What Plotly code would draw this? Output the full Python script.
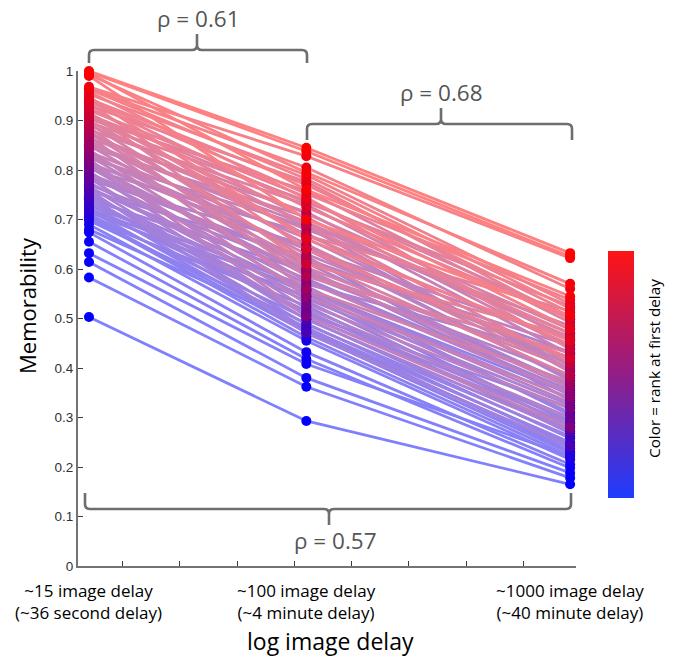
import numpy as np
import plotly.graph_objects as go

# ---------------- data ----------------
delays = [15, 100, 1000]
delay_labels = ["~15 image delay<br>(~36 second delay)",
                "~100 image delay<br>(~4 minute delay)",
                "~1000 image delay<br>(~40 minute delay)"]

mem_15 = [1.000, 0.998, 0.996, 0.993, 0.990, 0.968, 0.963, 0.958, 0.953, 0.948,
          0.944, 0.939, 0.935, 0.930, 0.926, 0.921, 0.917, 0.912, 0.908, 0.903,
          0.899, 0.894, 0.890, 0.886, 0.881, 0.877, 0.872, 0.868, 0.864, 0.859,
          0.855, 0.850, 0.846, 0.841, 0.837, 0.833, 0.828, 0.824, 0.819, 0.815,
          0.811, 0.806, 0.802, 0.797, 0.793, 0.789, 0.784, 0.780, 0.775, 0.771,
          0.767, 0.762, 0.758, 0.754, 0.749, 0.745, 0.741, 0.736, 0.732, 0.728,
          0.723, 0.719, 0.715, 0.710, 0.706, 0.702, 0.698, 0.690, 0.680, 0.674,
          0.655, 0.632, 0.614, 0.583, 0.503,
          0.965, 0.942, 0.915, 0.897, 0.875, 0.852, 0.831, 0.808, 0.786, 0.765,
          0.743, 0.721, 0.704, 0.760, 0.822]
mem_100 = [0.845, 0.838, 0.760, 0.795, 0.700, 0.828, 0.782, 0.742, 0.790, 0.660,
           0.770, 0.725, 0.640, 0.776, 0.702, 0.745, 0.610, 0.735, 0.690, 0.758,
           0.668, 0.620, 0.712, 0.585, 0.730, 0.650, 0.695, 0.560, 0.715, 0.630,
           0.680, 0.598, 0.705, 0.545, 0.662, 0.615, 0.575, 0.686, 0.530, 0.640,
           0.592, 0.555, 0.672, 0.520, 0.612, 0.570, 0.505, 0.648, 0.540, 0.600,
           0.498, 0.580, 0.625, 0.512, 0.550, 0.488, 0.595, 0.535, 0.480, 0.565,
           0.515, 0.475, 0.545, 0.500, 0.472, 0.525, 0.490, 0.455, 0.482, 0.432,
           0.418, 0.408, 0.380, 0.362, 0.293,
           0.805, 0.752, 0.668, 0.738, 0.603, 0.690, 0.640, 0.588, 0.620, 0.558,
           0.508, 0.558, 0.462, 0.470, 0.505]
mem_1000 = [0.632, 0.625, 0.545, 0.570, 0.505, 0.622, 0.520, 0.480, 0.530, 0.455,
            0.512, 0.500, 0.420, 0.498, 0.470, 0.438, 0.465, 0.525, 0.410, 0.492,
            0.448, 0.385, 0.478, 0.430, 0.455, 0.395, 0.462, 0.372, 0.440, 0.418,
            0.485, 0.360, 0.428, 0.340, 0.405, 0.445, 0.350, 0.392, 0.318, 0.380,
            0.412, 0.330, 0.398, 0.300, 0.365, 0.422, 0.288, 0.375, 0.325, 0.345,
            0.272, 0.355, 0.335, 0.295, 0.310, 0.262, 0.368, 0.282, 0.250, 0.305,
            0.275, 0.238, 0.290, 0.258, 0.228, 0.268, 0.245, 0.215, 0.232, 0.205,
            0.198, 0.222, 0.188, 0.178, 0.165,
            0.560, 0.538, 0.515, 0.505, 0.400, 0.470, 0.458, 0.385, 0.432, 0.338,
            0.320, 0.348, 0.222, 0.242, 0.280]

rho_labels = ["ρ = 0.61", "ρ = 0.68", "ρ = 0.57"]
ytick_vals = [0, 0.1, 0.2, 0.3, 0.4, 0.5, 0.6, 0.7, 0.8, 0.9, 1.0]
ytick_text = ["0", "0.1", "0.2", "0.3", "0.4", "0.5", "0.6", "0.7", "0.8", "0.9", "1"]
xtick_vals = [3.0, 3.5, 4.0, 4.5, 5.0, 5.5, 6.0, 6.5]

# ---------------- derived ----------------
xs = np.log(delays)
m15 = np.array(mem_15)
m100 = np.array(mem_100)
m1000 = np.array(mem_1000)
n = len(m15)
rank = np.argsort(np.argsort(m15))
t = rank / (n - 1)
order = np.argsort(m15)  # draw low rank first, red on top

def mcol(tt):
    return "rgb(%d,0,%d)" % (round(255 * tt), round(255 * (1 - tt)))

def lcol(tt):
    r = 255 * tt
    b = 255 * (1 - tt)
    return "rgb(%d,%d,%d)" % (round((r + 255) / 2), 128, round((b + 255) / 2))

FONT = "Open Sans"
fig = go.Figure()

for i in order:
    fig.add_trace(go.Scatter(
        x=xs, y=[m15[i], m100[i], m1000[i]], mode="lines",
        line=dict(color=lcol(t[i]), width=2.8),
        hoverinfo="skip", showlegend=False, cliponaxis=False))

for col, vals in enumerate([m15, m100, m1000]):
    fig.add_trace(go.Scatter(
        x=[xs[col]] * n, y=vals[order], mode="markers",
        marker=dict(color=[mcol(t[i]) for i in order], size=10, line=dict(width=0)),
        showlegend=False, cliponaxis=False))

# colorbar holder
fig.add_trace(go.Scatter(
    x=[xs[0]], y=[m15[0]], mode="markers",
    marker=dict(size=1, opacity=0, color=[0.5], cmin=0, cmax=1,
                colorscale=[[0, "rgb(30,60,255)"], [0.5, "rgb(145,30,135)"], [1, "rgb(255,20,20)"]],
                showscale=True,
                colorbar=dict(x=1.064, xanchor="left", y=0.387, yanchor="middle",
                              len=0.499, lenmode="fraction", thickness=26, xpad=0, ypad=0,
                              outlinewidth=0, showticklabels=False, ticks="")),
    showlegend=False, hoverinfo="skip"))

L, T, PW, PH = 78, 71, 498, 495

def P(xp, yp):
    return "%.5f,%.5f" % ((xp - L) / PW, (T + PH - yp) / PH)

def brace(x0, x1, xm, yh, yend, ytip, r=5):
    s = 1 if yend > yh else -1   # direction of the end hooks
    d = 1 if ytip < yh else -1   # spike direction (up if tip above)
    p = "M " + P(x0, yend)
    p += " L " + P(x0, yh + s * r)
    p += " Q " + P(x0, yh) + " " + P(x0 + r, yh)
    p += " L " + P(xm - r, yh)
    p += " Q " + P(xm, yh) + " " + P(xm, yh - d * r)
    p += " L " + P(xm, ytip)
    p += " M " + P(xm, yh - d * r)
    p += " Q " + P(xm, yh) + " " + P(xm + r, yh)
    p += " L " + P(x1 - r, yh)
    p += " Q " + P(x1, yh) + " " + P(x1, yh + s * r)
    p += " L " + P(x1, yend)
    return p

shape_line = dict(color="rgb(110,110,110)", width=2.6)
fig.add_shape(type="path", xref="paper", yref="paper", path=brace(89, 307, 197, 50, 63, 34), line=shape_line)
fig.add_shape(type="path", xref="paper", yref="paper", path=brace(307, 572, 441, 124, 140, 108), line=shape_line)
fig.add_shape(type="path", xref="paper", yref="paper", path=brace(85, 571, 329, 509, 493, 525), line=shape_line)

def ann(text, xp, yp, size, color="rgb(85,85,85)", angle=0):
    fig.add_annotation(text=text, x=(xp - L) / PW, y=(T + PH - yp) / PH,
                       xref="paper", yref="paper", showarrow=False,
                       xanchor="center", yanchor="middle", textangle=angle,
                       font=dict(family=FONT, size=size, color=color))

ann(rho_labels[0], 198, 19, 22.5)
ann(rho_labels[1], 441, 93, 22.5)
ann(rho_labels[2], 335, 540, 22.5)
ann("Color = rank at first delay", 654, 369, 15.3, color="black", angle=-90)
ann("Memorability", 27, 306, 22, color="black", angle=-90)
ann("log image delay", 330, 641, 23, color="black")

for xv, lab in zip(xs, delay_labels):
    fig.add_annotation(text=lab, x=xv, xref="x", y=(T + PH - 601) / PH, yref="paper",
                       showarrow=False, xanchor="center", yanchor="middle",
                       font=dict(family=FONT, size=17, color="black"))

fig.update_layout(
    width=674, height=662,
    margin=dict(l=L, r=674 - L - PW, t=T, b=662 - T - PH, autoexpand=False),
    plot_bgcolor="white", paper_bgcolor="white",
    xaxis=dict(range=[xs[0] - 11 / 114.8, xs[0] + 488 / 114.8], showgrid=False, zeroline=False,
               showline=True, linecolor="rgb(115,115,115)", linewidth=2,
               tickvals=xtick_vals, ticks="inside", ticklen=5, tickcolor="rgb(60,60,60)",
               tickwidth=1, showticklabels=False),
    yaxis=dict(range=[0, 1], showgrid=False, zeroline=False,
               showline=True, linecolor="rgb(115,115,115)", linewidth=2,
               tickvals=ytick_vals, ticktext=ytick_text, ticks="inside", ticklen=5,
               tickcolor="rgb(60,60,60)", tickwidth=1,
               tickfont=dict(family="Liberation Sans", size=13.5, color="rgb(50,50,50)")),
)

fig.write_html("out.html", config={"displayModeBar": False},
               post_script="document.body.style.margin='0px';document.body.style.padding='0px';document.body.style.overflow='hidden';")
